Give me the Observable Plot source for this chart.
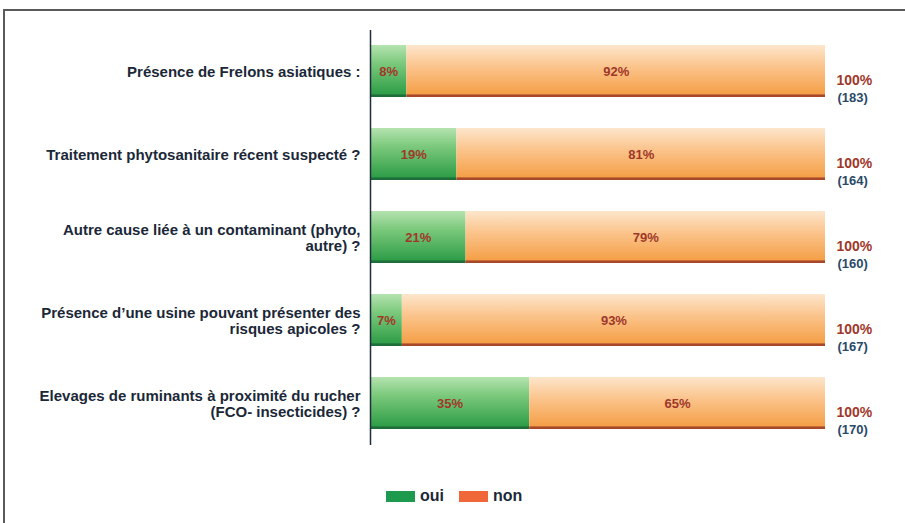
<!DOCTYPE html>
<html>
<head>
<meta charset="utf-8">
<script src="https://cdn.jsdelivr.net/npm/d3@7"></script>
<script src="https://cdn.jsdelivr.net/npm/@observablehq/plot@0.6"></script>
<style>
  html, body { margin: 0; padding: 0; background: #fff; }
  body { width: 905px; height: 523px; position: relative; overflow: hidden; font-family: "Liberation Sans", Arial, sans-serif; }
  #frame { position: absolute; left: 3px; top: 9px; width: 1000px; height: 600px; border-top: 2px solid #5a5a5a; border-left: 2px solid #5a5a5a; }
  #chart { position: absolute; left: 0; top: 0; }
  #legend { position: absolute; top: 487px; left: 386px; display: flex; align-items: center; font-weight: bold; font-size: 16px; color: #1b2838; }
  .sw { display: inline-block; width: 29px; height: 11px; margin-right: 5px; }
  .item { display: flex; align-items: center; margin-right: 15px; }
</style>
</head>
<body>
<div id="frame"></div>
<div id="chart"></div>
<div id="legend">
  <span class="item"><span class="sw" style="background:#1e9a4e"></span>oui</span>
  <span class="item"><span class="sw" style="background:#f0673a"></span>non</span>
</div>
<script>
const categories = [
  "Présence de Frelons asiatiques :",
  "Traitement phytosanitaire récent suspecté ?",
  "Autre cause liée à un contaminant (phyto,\nautre) ?",
  "Présence d’une usine pouvant présenter des\nrisques apicoles ?",
  "Elevages de ruminants à proximité du rucher\n(FCO- insecticides) ?"
];
const oui = [8, 19, 21, 7, 35];
const non = [92, 81, 79, 93, 65];
const totals = [183, 164, 160, 167, 170];

const rows = categories.map((c, i) => ({cat: c, oui: oui[i], non: non[i], n: totals[i], total: oui[i] + non[i]}));

const plot = Plot.plot({
  width: 905,
  height: 460,
  marginLeft: 370,
  marginRight: 80,
  marginTop: 30,
  marginBottom: 15,
  x: {domain: [0, 100], axis: null},
  y: {domain: categories, axis: null, paddingInner: 0.37, paddingOuter: 0.185},
  style: {fontFamily: "'Liberation Sans', Arial, sans-serif", background: "transparent"},
  marks: [
    Plot.barX(rows, {y: "cat", x1: 0, x2: "oui", fill: "url(#gGreen)", inset: 0}),
    Plot.barX(rows, {y: "cat", x1: "oui", x2: "total", fill: "url(#gOrange)", inset: 0}),
    Plot.ruleX(rows, {x: "total", y: "cat", stroke: "#4a5a55", strokeWidth: 1.5}),
    Plot.ruleX(rows, {x: "oui", y: "cat", stroke: "#2a6a45", strokeWidth: 1}),
    Plot.ruleX([0], {stroke: "#1f2f3f", strokeWidth: 1.5}),
    Plot.text(rows, {x: d => d.oui / 2, y: "cat", text: d => d.oui + "%", fill: "#a0382a", fontWeight: "bold", fontSize: 13}),
    Plot.text(rows, {x: d => d.oui + d.non / 2, y: "cat", text: d => d.non + "%", fill: "#a0382a", fontWeight: "bold", fontSize: 13}),
    Plot.text(rows, {x: 0, y: "cat", text: "cat", textAnchor: "end", dx: -10, fill: "#1b2838", fontWeight: "bold", fontSize: 15, lineHeight: 1.08}),
    Plot.text(rows, {x: "total", y: "cat", text: d => d.total + "%", textAnchor: "start", dx: 11, dy: 9, fill: "#a0382a", fontWeight: "bold", fontSize: 14}),
    Plot.text(rows, {x: "total", y: "cat", text: d => "(" + d.n + ")", textAnchor: "start", dx: 12, dy: 26, fill: "#2a4a6a", fontWeight: "bold", fontSize: 13})
  ]
});

const ns = "http://www.w3.org/2000/svg";
const defs = document.createElementNS(ns, "defs");
function grad(id, stops) {
  const g = document.createElementNS(ns, "linearGradient");
  g.setAttribute("id", id);
  g.setAttribute("x1", "0"); g.setAttribute("y1", "0");
  g.setAttribute("x2", "0"); g.setAttribute("y2", "1");
  for (const [o, c] of stops) {
    const s = document.createElementNS(ns, "stop");
    s.setAttribute("offset", o);
    s.setAttribute("stop-color", c);
    g.appendChild(s);
  }
  defs.appendChild(g);
}
grad("gGreen", [["0", "#b5e3b0"], ["0.35", "#7cc97c"], ["0.94", "#2f9e48"], ["0.96", "#1e6e3a"], ["1", "#1e6e3a"]]);
grad("gOrange", [["0", "#fde6cc"], ["0.4", "#fbc58e"], ["0.94", "#f5a048"], ["0.96", "#a8482a"], ["1", "#a8482a"]]);
plot.insertBefore(defs, plot.firstChild);
document.getElementById("chart").appendChild(plot);
</script>
</body>
</html>
